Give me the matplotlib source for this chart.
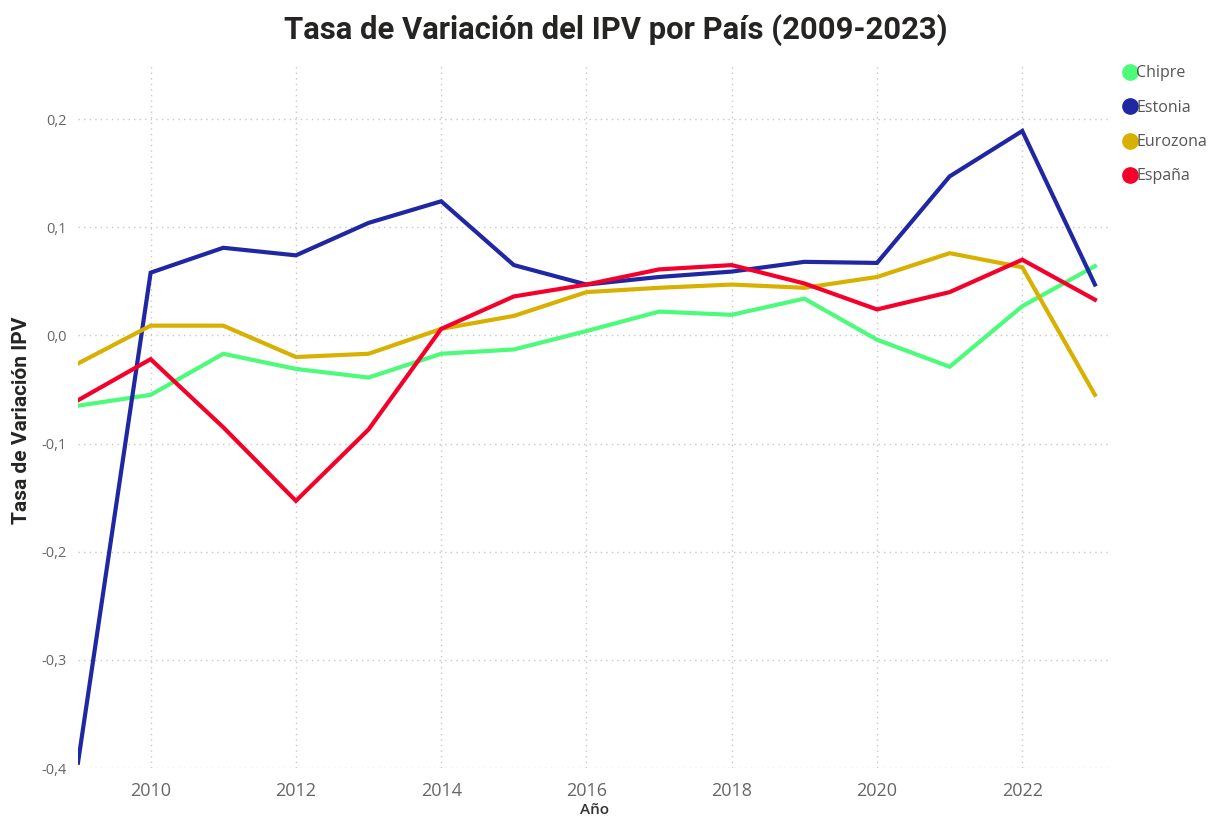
import matplotlib.pyplot as plt
from matplotlib.ticker import FuncFormatter
from matplotlib.lines import Line2D

years = list(range(2009, 2024))

chipre = [-0.065, -0.055, -0.017, -0.031, -0.039, -0.017, -0.013, 0.004,
          0.022, 0.019, 0.034, -0.004, -0.029, 0.027, 0.064]
estonia = [-0.395, 0.058, 0.081, 0.074, 0.104, 0.124, 0.065, 0.047,
           0.054, 0.059, 0.068, 0.067, 0.147, 0.189, 0.047]
eurozona = [-0.026, 0.009, 0.009, -0.020, -0.017, 0.006, 0.018, 0.040,
            0.044, 0.047, 0.044, 0.054, 0.076, 0.063, -0.055]
espana = [-0.060, -0.022, -0.085, -0.153, -0.087, 0.006, 0.036, 0.047,
          0.061, 0.065, 0.048, 0.024, 0.040, 0.070, 0.033]

series = ["Chipre", "Estonia", "Eurozona", "España"]
colors = ["#4dfb7a", "#1f27a3", "#d8b000", "#f5002a"]

plt.rcParams['font.family'] = ['Open Sans', 'DejaVu Sans']

fig = plt.figure(figsize=(12.13, 8.18), dpi=100)
ax = fig.add_axes([78 / 1213, 1 - 768 / 818, (1108 - 78) / 1213, (768 - 65) / 818])

for name, vals, c in zip(series, [chipre, estonia, eurozona, espana], colors):
    ax.plot(years, vals, color=c, lw=3, label=name, solid_joinstyle='miter')

ax.set_xlim(2009, 2023.18)
ax.set_ylim(-0.4, 0.25)
ax.set_xticks(range(2010, 2023, 2))
ax.set_yticks([-0.4, -0.3, -0.2, -0.1, 0.0, 0.1, 0.2])
ax.yaxis.set_major_formatter(FuncFormatter(lambda v, p: f"{v:.1f}".replace(".", ",")))
ax.grid(True, color="#c8c8c8", linestyle=(0, (1, 3)), lw=1)
for s in ax.spines.values():
    s.set_visible(False)
ax.tick_params(length=0)
ax.tick_params(axis='x', labelsize=13, colors="#666666", pad=10)
ax.tick_params(axis='y', labelsize=10.5, colors="#666666", pad=8)

fig.text(595 / 1213, 1 - 810 / 818, "Año", ha='center', va='center',
         fontsize=11, color="#333333", fontweight='semibold')
fig.text(22 / 1213, 1 - 420 / 818, "Tasa de Variación IPV", ha='center', va='center',
         rotation=90, fontsize=15, fontweight='bold', color="#252423", family=['Roboto'])

fig.text(0.508, 1 - 30 / 818, "Tasa de Variación del IPV por País (2009-2023)",
         ha='center', va='center', fontsize=22.3, fontweight='bold', color="#252423",
         family=['Roboto'])

handles = [Line2D([], [], marker='o', ls='', color=c, markersize=11) for c in colors]
fig.legend(handles, series, loc='upper left', bbox_to_anchor=(1114 / 1213, 1 - 59 / 818),
           frameon=False, fontsize=11.5, labelcolor="#555555", handletextpad=-0.2,
           labelspacing=1.15, borderaxespad=0, handlelength=1.2)

fig.savefig("out.png", dpi=100)
